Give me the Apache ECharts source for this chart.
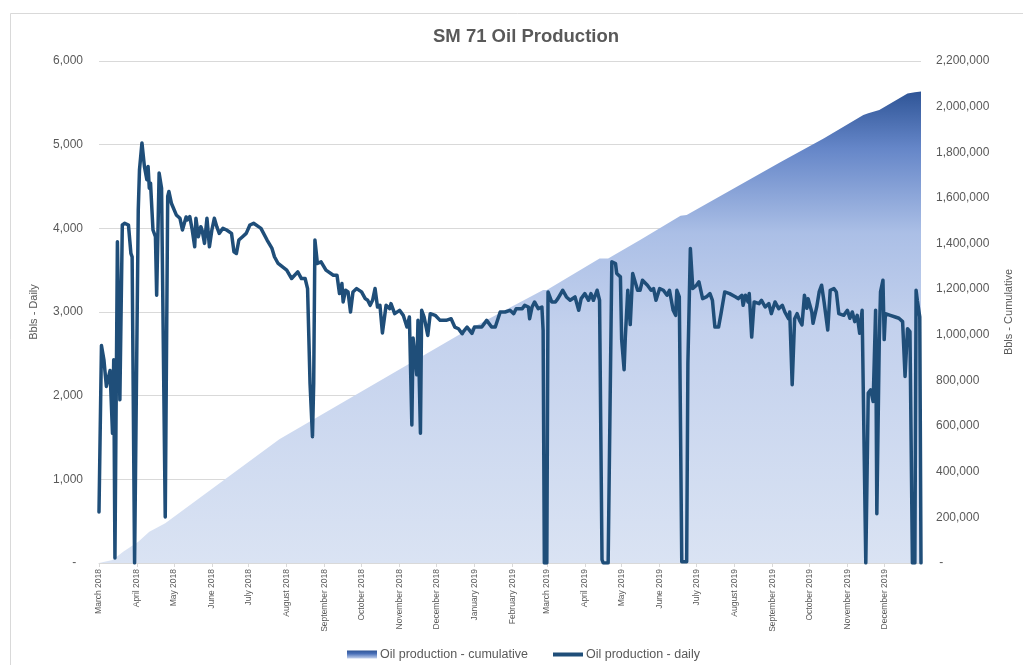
<!DOCTYPE html>
<html>
<head>
<meta charset="utf-8">
<script src="https://cdn.jsdelivr.net/npm/echarts@6/dist/echarts.min.js"></script>
<style>
html,body{margin:0;padding:0;background:#fff;}
#chart{width:1023px;height:665px;}
</style>
</head>
<body>
<div id="chart"></div>
<script>
// ---------- data ----------
const chartTitle = 'SM 71 Oil Production';
const leftAxisName = 'Bbls - Daily';
const rightAxisName = 'Bbls - Cumulative';
const cumulativeName = 'Oil production - cumulative';
const dailyName = 'Oil production - daily';

const axisStart = '2018-03-01';
const axisEnd = '2019-12-31';
const monthTicks = ['2018-03-01','2018-04-01','2018-05-01','2018-06-01','2018-07-01','2018-08-01','2018-09-01','2018-10-01','2018-11-01','2018-12-01','2019-01-01','2019-02-01','2019-03-01','2019-04-01','2019-05-01','2019-06-01','2019-07-01','2019-08-01','2019-09-01','2019-10-01','2019-11-01','2019-12-01'];
const monthNames = ['January','February','March','April','May','June','July','August','September','October','November','December'];

const dailyMax = 6000, dailyStep = 1000;
const cumMax = 2200000, cumStep = 200000;

const dailyDates = ['2018-03-01','2018-03-03','2018-03-05','2018-03-07','2018-03-10','2018-03-11','2018-03-12','2018-03-13','2018-03-14','2018-03-16','2018-03-18','2018-03-20','2018-03-22','2018-03-25','2018-03-27','2018-03-28','2018-03-30','2018-03-31','2018-04-02','2018-04-03','2018-04-05','2018-04-07','2018-04-09','2018-04-10','2018-04-11','2018-04-12','2018-04-14','2018-04-16','2018-04-17','2018-04-19','2018-04-21','2018-04-24','2018-04-26','2018-04-27','2018-04-29','2018-05-03','2018-05-06','2018-05-08','2018-05-11','2018-05-12','2018-05-14','2018-05-16','2018-05-18','2018-05-19','2018-05-21','2018-05-23','2018-05-24','2018-05-26','2018-05-28','2018-05-30','2018-06-01','2018-06-03','2018-06-05','2018-06-07','2018-06-10','2018-06-13','2018-06-17','2018-06-19','2018-06-21','2018-06-23','2018-06-26','2018-06-29','2018-07-02','2018-07-05','2018-07-09','2018-07-11','2018-07-16','2018-07-20','2018-07-22','2018-07-25','2018-07-26','2018-08-01','2018-08-05','2018-08-10','2018-08-13','2018-08-16','2018-08-18','2018-08-20','2018-08-22','2018-08-23','2018-08-24','2018-08-26','2018-08-29','2018-09-02','2018-09-08','2018-09-11','2018-09-13','2018-09-15','2018-09-16','2018-09-18','2018-09-20','2018-09-22','2018-09-24','2018-09-27','2018-10-01','2018-10-04','2018-10-06','2018-10-08','2018-10-10','2018-10-12','2018-10-14','2018-10-16','2018-10-18','2018-10-21','2018-10-24','2018-10-25','2018-10-28','2018-11-01','2018-11-04','2018-11-07','2018-11-09','2018-11-11','2018-11-12','2018-11-13','2018-11-15','2018-11-16','2018-11-18','2018-11-19','2018-11-21','2018-11-24','2018-11-26','2018-11-30','2018-12-04','2018-12-09','2018-12-13','2018-12-16','2018-12-19','2018-12-22','2018-12-23','2018-12-26','2018-12-27','2018-12-30','2019-01-01','2019-01-07','2019-01-11','2019-01-15','2019-01-18','2019-01-22','2019-01-26','2019-01-30','2019-02-02','2019-02-04','2019-02-09','2019-02-11','2019-02-14','2019-02-15','2019-02-17','2019-02-19','2019-02-22','2019-02-25','2019-02-26','2019-02-27','2019-03-01','2019-03-02','2019-03-05','2019-03-08','2019-03-10','2019-03-14','2019-03-17','2019-03-20','2019-03-24','2019-03-27','2019-03-29','2019-04-01','2019-04-04','2019-04-06','2019-04-08','2019-04-11','2019-04-13','2019-04-15','2019-04-16','2019-04-20','2019-04-23','2019-04-26','2019-04-27','2019-04-30','2019-05-01','2019-05-03','2019-05-04','2019-05-06','2019-05-07','2019-05-08','2019-05-10','2019-05-14','2019-05-16','2019-05-18','2019-05-22','2019-05-25','2019-05-27','2019-05-29','2019-06-01','2019-06-04','2019-06-07','2019-06-09','2019-06-12','2019-06-14','2019-06-15','2019-06-17','2019-06-19','2019-06-23','2019-06-24','2019-06-26','2019-06-28','2019-07-01','2019-07-03','2019-07-06','2019-07-09','2019-07-12','2019-07-14','2019-07-16','2019-07-19','2019-07-21','2019-07-24','2019-07-28','2019-08-02','2019-08-04','2019-08-07','2019-08-08','2019-08-10','2019-08-12','2019-08-13','2019-08-15','2019-08-17','2019-08-21','2019-08-23','2019-08-26','2019-08-29','2019-08-31','2019-09-03','2019-09-06','2019-09-09','2019-09-11','2019-09-14','2019-09-15','2019-09-17','2019-09-19','2019-09-21','2019-09-23','2019-09-25','2019-09-27','2019-09-29','2019-09-30','2019-10-03','2019-10-04','2019-10-07','2019-10-09','2019-10-11','2019-10-13','2019-10-16','2019-10-18','2019-10-21','2019-10-23','2019-10-25','2019-10-29','2019-11-01','2019-11-03','2019-11-05','2019-11-07','2019-11-09','2019-11-11','2019-11-13','2019-11-14','2019-11-16','2019-11-18','2019-11-20','2019-11-22','2019-11-23','2019-11-24','2019-11-25','2019-11-27','2019-11-28','2019-11-30','2019-12-01','2019-12-02','2019-12-06','2019-12-10','2019-12-13','2019-12-16','2019-12-18','2019-12-20','2019-12-22','2019-12-24','2019-12-26','2019-12-27','2019-12-28','2019-12-30','2019-12-31'];
const dailyValues = [610,2600,2430,2110,2300,2300,1550,2430,60,3840,1950,4040,4060,4040,3700,3660,0,0,4220,4700,5020,4740,4580,4740,4480,4540,3980,3900,3200,4660,4480,550,4380,4440,4300,4160,4120,3980,4135,4100,4140,3980,3780,4120,3900,4020,3980,3820,4120,3780,3980,4120,4020,3940,4000,3980,3940,3720,3700,3860,3900,3940,4040,4060,4020,4000,3860,3760,3660,3580,3600,3500,3400,3480,3400,3400,3280,2150,1510,2150,3860,3580,3600,3500,3440,3440,3220,3340,3120,3260,3240,3000,3240,3280,3240,3160,3140,3080,3140,3280,3060,3080,2750,3080,3040,3100,2980,3020,2960,2820,2940,1650,2690,2690,2250,2900,1550,3020,2940,2720,2980,2960,2900,2900,2920,2820,2800,2740,2765,2820,2820,2745,2820,2820,2900,2820,2820,3000,3000,3020,2980,3040,3040,3080,3060,2920,3060,3120,3040,3060,2780,0,0,3240,3120,3120,3160,3260,3180,3140,3180,3020,3160,3220,3140,3220,3140,3260,3140,40,0,0,3600,3580,3460,3420,2670,2310,2700,3260,3280,2850,3460,3260,3260,3380,3320,3260,3280,3140,3280,3260,3200,3260,3020,2960,3260,3180,15,15,2390,3760,3280,3320,3360,3160,3180,3220,3140,2820,2820,2980,3240,3220,3180,3160,3200,3080,3200,3120,3220,2700,3120,3100,3140,3060,3100,2980,3120,3040,3080,3000,2920,3000,2130,2920,2980,2900,2845,3200,3044,3160,3000,2865,3060,3240,3320,3120,2785,3260,3280,3240,2980,2960,3020,2925,3000,2885,2960,2745,3020,3000,0,2030,2070,1930,2470,3020,590,2670,3240,3380,2670,2980,2960,2940,2925,2885,2230,2800,2765,0,0,3260,3140,2940,0];

const cumDates = ['2018-03-01','2018-03-12','2018-03-21','2018-04-02','2018-04-11','2018-04-24','2018-07-26','2018-12-22','2019-02-26','2019-03-01','2019-04-13','2019-04-20','2019-05-16','2019-06-18','2019-06-23','2019-09-08','2019-10-13','2019-11-14','2019-11-18','2019-11-27','2019-12-20','2019-12-26','2019-12-31'];
const cumValues = [0,13000,50000,93000,137000,174000,542000,1008000,1196000,1196000,1335000,1335000,1416000,1522000,1525000,1759000,1861000,1963000,1971000,1985000,2058000,2063000,2066000];

// ---------- helpers ----------
const toTime = s => { const p = s.split('-').map(Number); return Date.UTC(p[0], p[1]-1, p[2]); };
const fmtNum = v => v.toString().replace(/\B(?=(\d{3})+(?!\d))/g, ',');
const FONT = '"Liberation Sans", Arial, sans-serif';
const GREY = '#595959';

const dailyData = dailyDates.map((d, i) => [toTime(d), dailyValues[i]]);
const cumData = cumDates.map((d, i) => [toTime(d), cumValues[i]]);
const tickTimes = monthTicks.map(toTime);

const areaGradient = new echarts.graphic.LinearGradient(0, 0, 0, 1, [
  {offset: 0, color: '#2f5597'},
  {offset: 0.12, color: '#6586c8'},
  {offset: 0.3, color: '#abbfe6'},
  {offset: 0.5, color: '#c3d1ed'},
  {offset: 1, color: '#dae3f3'}
]);
const legendGradient = new echarts.graphic.LinearGradient(0, 0, 0, 1, [
  {offset: 0, color: '#2f5597'},
  {offset: 0.4, color: '#4a70b8'},
  {offset: 1, color: '#c5d3ee'}
]);

const chart = echarts.init(document.getElementById('chart'), null, {renderer: 'canvas'});
chart.setOption({
  animation: false,
  backgroundColor: '#ffffff',
  textStyle: {fontFamily: FONT},
  graphic: [{
    type: 'rect', left: 8, top: 11, silent: true,
    shape: {x: 0.5, y: 0.5, width: 1040, height: 700},
    style: {fill: 'none', stroke: '#d9d9d9', lineWidth: 1}
  }],
  title: {
    text: chartTitle, left: 428, top: 22,
    textStyle: {fontFamily: FONT, fontSize: 18.5, fontWeight: 'bold', color: GREY}
  },
  legend: {
    top: 643, left: 342, itemWidth: 30, itemHeight: 8, itemGap: 25,
    textStyle: {fontFamily: FONT, fontSize: 12.5, color: GREY, padding: [0, 0, 0, -2]},
    data: [
      {name: cumulativeName, icon: 'rect', itemStyle: {color: legendGradient}},
      {name: dailyName, icon: 'path://M0,0H30V4H0Z', itemStyle: {color: '#1f4e79'}}
    ]
  },
  grid: {left: 99, right: 102, top: 61, bottom: 102},
  xAxis: {
    type: 'value',
    min: toTime(axisStart), max: toTime(axisEnd),
    axisLine: {show: true, onZero: false, lineStyle: {color: '#d9d9d9', width: 1}},
    axisTick: {show: true, length: 4, lineStyle: {color: '#d9d9d9'}, customValues: tickTimes},
    splitLine: {show: false},
    axisLabel: {
      customValues: tickTimes,
      rotate: 90, margin: 6, fontSize: 8.5, color: GREY, fontFamily: FONT,
      formatter: v => { const d = new Date(v); return monthNames[d.getUTCMonth()] + ' ' + d.getUTCFullYear(); }
    }
  },
  yAxis: [{
    type: 'value', min: 0, max: dailyMax, interval: dailyStep, position: 'left',
    name: leftAxisName, nameLocation: 'middle', nameRotate: 90, nameGap: 60,
    nameTextStyle: {fontFamily: FONT, fontSize: 11, color: GREY},
    axisLine: {show: false}, axisTick: {show: false},
    splitLine: {show: true, lineStyle: {color: '#d9d9d9', width: 1}},
    axisLabel: {margin: 16, fontSize: 12, color: GREY, fontFamily: FONT,
      formatter: v => v === 0 ? '-  ' : fmtNum(v)}
  }, {
    type: 'value', min: 0, max: cumMax, interval: cumStep, position: 'right',
    name: rightAxisName, nameLocation: 'middle', nameRotate: 90, nameGap: 82,
    nameTextStyle: {fontFamily: FONT, fontSize: 11, color: GREY},
    axisLine: {show: false}, axisTick: {show: false}, splitLine: {show: false},
    axisLabel: {margin: 15, fontSize: 12, color: GREY, fontFamily: FONT,
      formatter: v => v === 0 ? ' -' : fmtNum(v)}
  }],
  series: [{
    name: cumulativeName, type: 'line', yAxisIndex: 1, data: cumData,
    symbol: 'none', showSymbol: false, z: 1,
    lineStyle: {width: 0, color: '#2f5597'},
    itemStyle: {color: legendGradient},
    areaStyle: {color: areaGradient, opacity: 1}
  }, {
    name: dailyName, type: 'line', yAxisIndex: 0, data: dailyData,
    symbol: 'none', showSymbol: false, z: 3,
    lineStyle: {width: 3.5, color: '#1f4e79', join: 'round', cap: 'round'},
    itemStyle: {color: '#1f4e79'}
  }]
});
</script>
</body>
</html>
